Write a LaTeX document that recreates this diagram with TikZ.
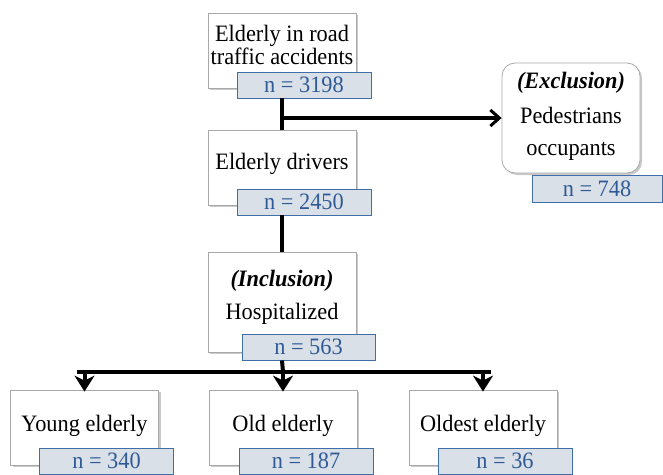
\documentclass[tikz,border=0pt]{standalone}
\usepackage{fontspec}
\setmainfont{Liberation Serif}[FakeStretch=0.95]
\usetikzlibrary{arrows.meta,shadows}
\definecolor{nfill}{HTML}{DAE0E8}
\definecolor{nborder}{HTML}{3F6EA8}
\definecolor{ntext}{HTML}{2F5A96}
\definecolor{boxborder}{HTML}{A8A8A8}
\begin{document}
\begin{tikzpicture}[x=1pt,y=-1pt,
  box/.style={draw=boxborder,line width=0.8pt,fill=white,minimum width=148pt,minimum height=75pt,
    inner sep=0pt,
    drop shadow={shadow xshift=2pt,shadow yshift=-2pt,fill=black!35,opacity=.6}},
  txt/.style={anchor=base,inner sep=0pt,font=\fontsize{23.5}{25}\selectfont},
  nbox/.style={draw=nborder,line width=0.9pt,fill=nfill,minimum width=134pt,minimum height=26pt,
    inner sep=0pt,text=ntext,font=\fontsize{23.5}{25}\selectfont},
  conn/.style={line width=4pt},
  arr/.style={line width=4pt,-{Straight Barb[length=9pt,width=16pt,line width=3pt]}},
  downarr/.style={line width=4pt,-{Stealth[length=16pt,width=20pt,inset=5pt]}}
]
\useasboundingbox (0,0) rectangle (663,474);
% boxes
\node[box] (b1) at (282,50.5) {};
\node[txt] (t1a) at (282,41) {Elderly in road};
\node[txt] (t1b) at (282,64.5) {traffic accidents};
\node[nbox] (n1) at (304,85) {n = 3198};
\node[box] (b2) at (282,167.5) {};
\node[txt] (t2) at (282,169.5) {Elderly drivers};
\node[nbox] (n2) at (304,202) {n = 2450};
\node[box,minimum height=100pt] (b3) at (282,302) {};
\node[txt] (t3a) at (282,286) {\textbf{\textit{(Inclusion)}}};
\node[txt] (t3b) at (282,319) {Hospitalized};
\node[nbox,minimum width=133pt] (n3) at (308.5,347) {n = 563};
\node[box,rounded corners=13pt,minimum width=138pt,minimum height=110pt] (ex) at (571,118) {};
\node[txt] (tea) at (571,88) {\textbf{\textit{(Exclusion)}}};
\node[txt] (teb) at (571,123.5) {Pedestrians};
\node[txt] (tec) at (571,155) {occupants};
\node[nbox,minimum width=130pt,minimum height=27pt] (nex) at (597,188.5) {n = 748};
\node[box] (y) at (84.5,427.5) {};
\node[txt] (ty) at (84.5,431) {Young elderly};
\node[nbox] (ny) at (106.5,461) {n = 340};
\node[box] (o) at (283,427.5) {};
\node[txt] (to) at (283,431) {Old elderly};
\node[nbox] (no) at (306,461) {n = 187};
\node[box] (oo) at (483,427.5) {};
\node[txt] (too) at (483,431) {Oldest elderly};
\node[nbox] (noo) at (505,461) {n = 36};
% connectors
\draw[conn] (b1.south |- n1.south) -- (b2.north);
\draw[arr] (b1.south |- ex.west) -- (ex.west);
\draw[conn] (b2.south |- n2.south) -- (b3.north);
\coordinate (split) at (283,372);
\draw[conn] (b3.south |- n3.south) -- (split);
\draw[conn] ([xshift=-8pt]y.north |- split) -- ([xshift=8pt]oo.north |- split);
\draw[downarr] ([yshift=-2pt]y.north |- split) -- ([yshift=-2pt]y.north);
\draw[downarr] ([yshift=-2pt]o.north |- split) -- ([yshift=-2pt]o.north);
\draw[downarr] ([yshift=-2pt]oo.north |- split) -- ([yshift=-2pt]oo.north);
\end{tikzpicture}
\end{document}
